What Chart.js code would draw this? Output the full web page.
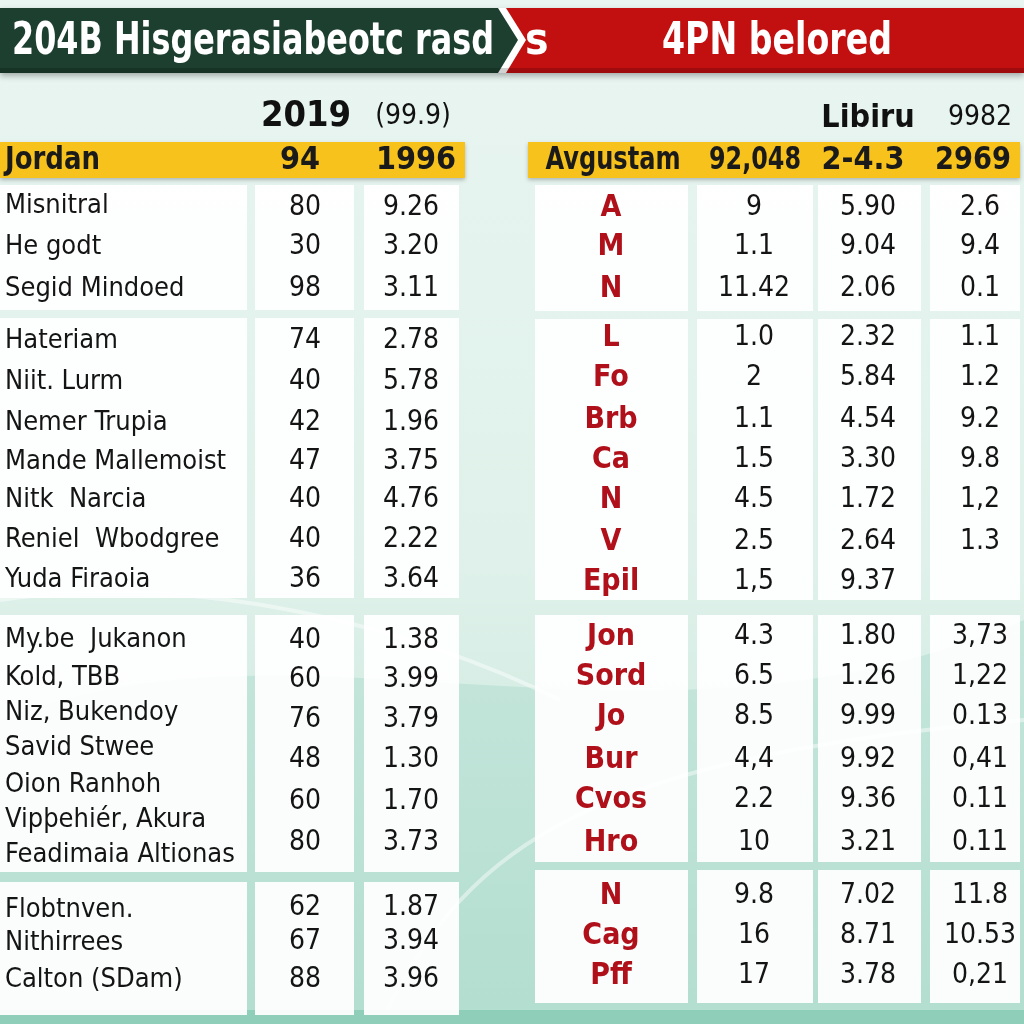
<!DOCTYPE html>
<html>
<head>
<meta charset="utf-8">
<script src="https://cdn.jsdelivr.net/npm/chart.js@4.4.1/dist/chart.umd.min.js"></script>
<style>
  html, body { margin: 0; padding: 0; background: #e6f3ef; }
  canvas { display: block; }
</style>
</head>
<body>
<canvas id="c" width="1024" height="1024"></canvas>
<script>
// ---- data ----
const titleLeft = "204B Hisgerasiabeotc rasd";
const titleMid = "s";
const titleRight = "4PN belored";

const leftHead = ["2019", "(99.9)"];
const leftTop = ["Jordan", "94", "1996"];
const leftNames = [
  ["Misnitral", "He godt", "Segid Mindoed"],
  ["Hateriam", "Niit. Lurm", "Nemer Trupia", "Mande Mallemoist", "Nitk  Narcia", "Reniel  Wbodgree", "Yuda Firaoia"],
  ["My.be  Jukanon", "Kold, TBB", "Niz, Bukendoy", "Savid Stwee", "Oion Ranhoh", "Vipþehiér, Akura", "Feadimaia Altionas"],
  ["Flobtnven.", "Nithirrees", "Calton (SDam)"]
];
const leftValA = [
  ["80", "30", "98"],
  ["74", "40", "42", "47", "40", "40", "36"],
  ["40", "60", "76", "48", "60", "80"],
  ["62", "67", "88"]
];
const leftValB = [
  ["9.26", "3.20", "3.11"],
  ["2.78", "5.78", "1.96", "3.75", "4.76", "2.22", "3.64"],
  ["1.38", "3.99", "3.79", "1.30", "1.70", "3.73"],
  ["1.87", "3.94", "3.96"]
];

const rightHead = ["Libiru", "9982"];
const rightTop = ["Avgustam", "92,048", "2-4.3", "2969"];
const rightLabels = [
  ["A", "M", "N"],
  ["L", "Fo", "Brb", "Ca", "N", "V", "Epil"],
  ["Jon", "Sord", "Jo", "Bur", "Cvos", "Hro"],
  ["N", "Cag", "Pff"]
];
const rightValA = [
  ["9", "1.1", "11.42"],
  ["1.0", "2", "1.1", "1.5", "4.5", "2.5", "1,5"],
  ["4.3", "6.5", "8.5", "4,4", "2.2", "10"],
  ["9.8", "16", "17"]
];
const rightValB = [
  ["5.90", "9.04", "2.06"],
  ["2.32", "5.84", "4.54", "3.30", "1.72", "2.64", "9.37"],
  ["1.80", "1.26", "9.99", "9.92", "9.36", "3.21"],
  ["7.02", "8.71", "3.78"]
];
const rightValC = [
  ["2.6", "9.4", "0.1"],
  ["1.1", "1.2", "9.2", "9.8", "1,2", "1.3", ""],
  ["3,73", "1,22", "0.13", "0,41", "0.11", "0.11"],
  ["11.8", "10.53", "0,21"]
];

// ---- layout (in scale units) ----
const leftLayout = {
  boxX: [[0, 247], [255, 354], [364, 459]],
  colX: [5, 305, 411],
  groupY: [[185, 310], [318, 598], [615, 872], [882, 1015]],
  nameY: [[206, 247, 289], [341, 382, 423, 462, 500, 540, 580], [640, 678, 713, 748, 785, 820, 855], [910, 943, 980]],
  valY: [[208, 247, 289], [341, 382, 423, 462, 500, 540, 580], [641, 680, 720, 760, 802, 843], [908, 942, 980]]
};
const rightLayout = {
  boxX: [[535, 688], [697, 813], [818, 921], [930, 1020]],
  colX: [611, 754, 868, 980],
  groupY: [[185, 311], [319, 600], [615, 862], [870, 1003]],
  rowY: [[208, 247, 289], [338, 378, 420, 460, 500, 542, 582], [637, 677, 717, 760, 800, 843], [896, 936, 976]]
};

const NARROW = '"Liberation Sans Narrow", "DejaVu Sans Condensed", sans-serif';
const COND = '"DejaVu Sans Condensed", "Liberation Sans Narrow", sans-serif';

const tablePlugin = {
  id: "tableDraw",
  beforeDraw(chart) {
    const { ctx, scales: { x, y } } = chart;
    const W = chart.width, H = chart.height;
    ctx.save();
    const g = ctx.createLinearGradient(0, 0, 0, H);
    g.addColorStop(0, "#e9f5f1");
    g.addColorStop(0.55, "#dff1ea");
    g.addColorStop(1, "#c2e5d8");
    ctx.fillStyle = g;
    ctx.fillRect(0, 0, W, H);

    // soft teal shapes in the background
    ctx.fillStyle = "rgba(140, 205, 185, 0.28)";
    ctx.beginPath();
    ctx.moveTo(x.getPixelForValue(0), y.getPixelForValue(720));
    ctx.bezierCurveTo(x.getPixelForValue(300), y.getPixelForValue(600), x.getPixelForValue(650), y.getPixelForValue(780), x.getPixelForValue(1024), y.getPixelForValue(620));
    ctx.lineTo(x.getPixelForValue(1024), y.getPixelForValue(1024));
    ctx.lineTo(x.getPixelForValue(0), y.getPixelForValue(1024));
    ctx.closePath();
    ctx.fill();

    ctx.strokeStyle = "rgba(255,255,255,0.45)";
    ctx.lineWidth = 4;
    ctx.beginPath();
    ctx.moveTo(x.getPixelForValue(380), y.getPixelForValue(1024));
    ctx.bezierCurveTo(x.getPixelForValue(460), y.getPixelForValue(860), x.getPixelForValue(560), y.getPixelForValue(760), x.getPixelForValue(1024), y.getPixelForValue(720));
    ctx.stroke();
    ctx.beginPath();
    ctx.moveTo(x.getPixelForValue(0), y.getPixelForValue(600));
    ctx.bezierCurveTo(x.getPixelForValue(200), y.getPixelForValue(570), x.getPixelForValue(420), y.getPixelForValue(630), x.getPixelForValue(560), y.getPixelForValue(700));
    ctx.stroke();

    ctx.fillStyle = "#8fcfb9";
    ctx.fillRect(0, y.getPixelForValue(1010), W, H - y.getPixelForValue(1010));
    ctx.restore();
  },
  afterDraw(chart) {
    const { ctx, scales: { x, y } } = chart;
    const px = v => x.getPixelForValue(v);
    const py = v => y.getPixelForValue(v);
    ctx.save();

    // banner
    ctx.save();
    ctx.shadowColor = "rgba(0,0,0,0.3)";
    ctx.shadowBlur = 6;
    ctx.shadowOffsetY = 3;
    ctx.fillStyle = "#c20f10";
    ctx.fillRect(px(0), py(8), px(1024) - px(0), py(73) - py(8));
    ctx.restore();
    ctx.fillStyle = "#ffffff";
    ctx.beginPath();
    ctx.moveTo(px(0), py(8)); ctx.lineTo(px(506), py(8)); ctx.lineTo(px(526), py(40));
    ctx.lineTo(px(506), py(73)); ctx.lineTo(px(0), py(73)); ctx.closePath(); ctx.fill();
    ctx.fillStyle = "#1d3f2f";
    ctx.beginPath();
    ctx.moveTo(px(0), py(8)); ctx.lineTo(px(498), py(8)); ctx.lineTo(px(518), py(40));
    ctx.lineTo(px(498), py(73)); ctx.lineTo(px(0), py(73)); ctx.closePath(); ctx.fill();
    ctx.fillStyle = "rgba(0,0,0,0.18)";
    ctx.fillRect(px(0), py(68), px(1024), py(73) - py(68));

    ctx.fillStyle = "#ffffff";
    ctx.textBaseline = "alphabetic";
    ctx.font = "bold 44px " + NARROW;
    ctx.textAlign = "left";
    ctx.fillText(titleLeft, px(12), py(54), px(494) - px(12));
    ctx.fillText(titleMid, px(525), py(54));
    ctx.textAlign = "center";
    ctx.fillText(titleRight, px(777), py(54), 230);

    // header row
    ctx.fillStyle = "#111111";
    ctx.textBaseline = "middle";
    ctx.font = "bold 36px " + NARROW;
    ctx.fillText(leftHead[0], px(306), py(117));
    ctx.font = "28px " + NARROW;
    ctx.fillText(leftHead[1], px(413), py(117));
    ctx.font = "bold 32px " + NARROW;
    ctx.fillText(rightHead[0], px(868), py(119));
    ctx.font = "28px " + NARROW;
    ctx.fillText(rightHead[1], px(980), py(118));

    // yellow rows
    ctx.save();
    ctx.shadowColor = "rgba(0,0,0,0.25)";
    ctx.shadowBlur = 4;
    ctx.shadowOffsetY = 2;
    ctx.fillStyle = "#f7c21c";
    ctx.fillRect(px(0), py(142), px(465) - px(0), py(178) - py(142));
    ctx.fillRect(px(528), py(142), px(1020) - px(528), py(178) - py(142));
    ctx.restore();

    ctx.fillStyle = "#1a1a1a";
    ctx.font = "bold 32px " + NARROW;
    ctx.textAlign = "left";
    ctx.fillText(leftTop[0], px(5), py(161), 95);
    ctx.textAlign = "center";
    ctx.fillText(leftTop[1], px(300), py(161));
    ctx.fillText(leftTop[2], px(416), py(161));
    ctx.fillText(rightTop[0], px(613), py(161), 135);
    ctx.fillText(rightTop[1], px(755), py(161), 92);
    ctx.fillText(rightTop[2], px(863), py(161), 86);
    ctx.fillText(rightTop[3], px(973), py(161), 76);

    // cell boxes
    const boxes = (lay) => {
      lay.groupY.forEach(([y0, y1]) => {
        lay.boxX.forEach(([x0, x1]) => {
          ctx.fillStyle = "rgba(255,255,255,0.93)";
          ctx.fillRect(px(x0), py(y0), px(x1) - px(x0), py(y1) - py(y0));
        });
      });
    };
    boxes(leftLayout);
    boxes(rightLayout);

    // left table text
    ctx.fillStyle = "#141414";
    ctx.font = "27px " + COND;
    ctx.textAlign = "left";
    leftNames.forEach((grp, gi) => grp.forEach((name, ri) => {
      ctx.fillText(name, px(leftLayout.colX[0]), py(leftLayout.nameY[gi][ri]), 238);
    }));
    ctx.textAlign = "center";
    ctx.font = "28px " + COND;
    leftValA.forEach((grp, gi) => grp.forEach((v, ri) => {
      ctx.fillText(v, px(leftLayout.colX[1]), py(leftLayout.valY[gi][ri]));
    }));
    leftValB.forEach((grp, gi) => grp.forEach((v, ri) => {
      ctx.fillText(v, px(leftLayout.colX[2]), py(leftLayout.valY[gi][ri]));
    }));

    // right table text
    ctx.fillStyle = "#b0101a";
    ctx.font = "bold 30px " + NARROW;
    rightLabels.forEach((grp, gi) => grp.forEach((v, ri) => {
      ctx.fillText(v, px(rightLayout.colX[0]), py(rightLayout.rowY[gi][ri]));
    }));
    ctx.fillStyle = "#141414";
    ctx.font = "28px " + COND;
    [rightValA, rightValB, rightValC].forEach((col, ci) => {
      col.forEach((grp, gi) => grp.forEach((v, ri) => {
        ctx.fillText(v, px(rightLayout.colX[ci + 1]), py(rightLayout.rowY[gi][ri]));
      }));
    });

    ctx.restore();
  }
};

new Chart(document.getElementById("c"), {
  type: "scatter",
  data: { datasets: [{ data: [] }] },
  options: {
    responsive: false,
    animation: false,
    events: [],
    layout: { padding: 0 },
    plugins: { legend: { display: false }, tooltip: { enabled: false } },
    scales: {
      x: { type: "linear", min: 0, max: 1024, display: false },
      y: { type: "linear", min: 0, max: 1024, reverse: true, display: false }
    }
  },
  plugins: [tablePlugin]
});
</script>
</body>
</html>
